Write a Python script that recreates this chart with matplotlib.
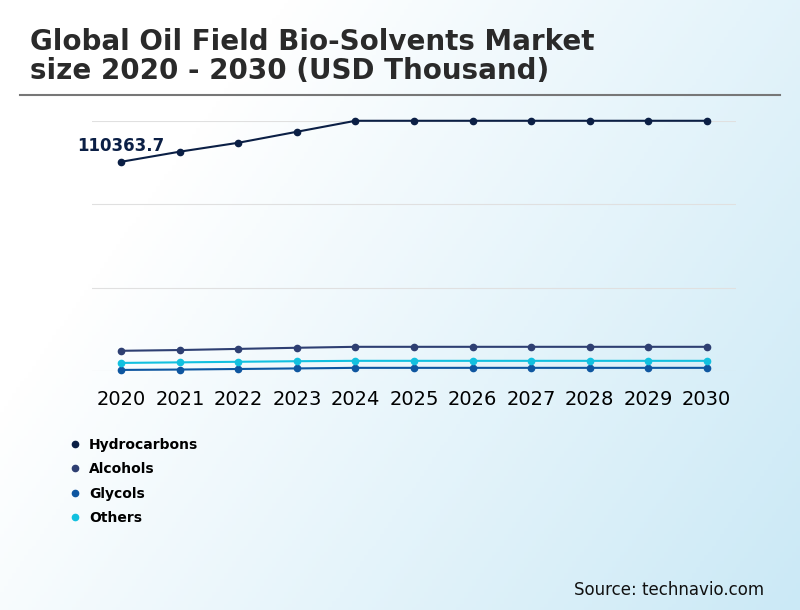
import matplotlib.pyplot as plt
import numpy as np
from matplotlib.colors import LinearSegmentedColormap

years = [str(y) for y in range(2020, 2031)]
hydrocarbons = [110363.7, 115700, 120400, 126200, 132000, 132000, 132000, 132000, 132000, 132000, 132000]
alcohols = [10600, 11000, 11600, 12200, 12700, 12700, 12700, 12700, 12700, 12700, 12700]
glycols = [500, 700, 1000, 1300, 1600, 1600, 1600, 1600, 1600, 1600, 1600]
others = [4200, 4500, 4800, 5100, 5300, 5300, 5300, 5300, 5300, 5300, 5300]
series = [("Hydrocarbons", hydrocarbons, "#0b1f45"),
          ("Alcohols", alcohols, "#2e3f72"),
          ("Glycols", glycols, "#0e56a0"),
          ("Others", others, "#12c0df")]

fig = plt.figure(figsize=(8, 6.1), dpi=100)
# background gradient: white top-left to light blue bottom-right
bg = fig.add_axes([0, 0, 1, 1], zorder=-10)
gx, gy = np.meshgrid(np.linspace(0, 1, 200), np.linspace(0, 1, 200))
grad = np.clip((gx * 0.85 + gy * 0.45) - 0.3, 0, 1)
cmap = LinearSegmentedColormap.from_list("bg", ["#ffffff", "#cbe9f6"])
bg.imshow(grad, cmap=cmap, aspect="auto", extent=[0, 1, 0, 1], origin="upper")
bg.axis("off")

fig.text(0.037, 0.87, "Global Oil Field Bio-Solvents Market\nsize 2020 - 2030 (USD Thousand)",
         fontsize=20, fontweight="bold", color="#2a2a2a", linespacing=1.05)
fig.add_artist(plt.Line2D([0.025, 0.975], [0.845, 0.845], color="#777777", lw=1.5))

ax = fig.add_axes([0.115, 0.392, 0.805, 0.41])
ax.set_facecolor("none")
x = np.arange(len(years))
for name, vals, c in series:
    ax.plot(x, vals, color=c, lw=1.5, marker="o", ms=4.5, label=name, clip_on=False)
ax.set_ylim(0, 132000)
ax.set_yticks([0, 44000, 88000, 132000])
ax.set_yticklabels([])
ax.tick_params(left=False, bottom=False, labelsize=14, pad=10)
ax.set_xticks(x)
ax.set_xticklabels(years)
ax.set_xlim(-0.5, 10.5)
ax.grid(axis="y", color="#e0e0e0", lw=0.8)
for s in ax.spines.values():
    s.set_visible(False)
ax.annotate("110363.7", (0, hydrocarbons[0]), xytext=(0, 8), textcoords="offset points",
            ha="center", fontsize=12, fontweight="bold", color="#0b1f45")

ax.legend(loc="upper left", bbox_to_anchor=(-0.054, -0.218), frameon=False,
          handlelength=0.8, handletextpad=0.6, labelspacing=0.75,
          prop={"weight": "bold", "size": 10})
for h in ax.get_legend().get_lines():
    h.set_linestyle("none")

fig.text(0.955, 0.025, "Source: technavio.com", ha="right", fontsize=12, color="#111111")
fig.savefig("out.png", dpi=100)
